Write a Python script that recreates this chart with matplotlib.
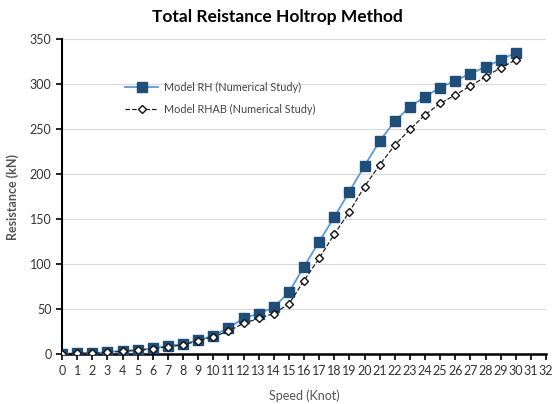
import numpy as np
import matplotlib.pyplot as plt

plt.rcParams['font.family'] = ['Lato', 'DejaVu Sans']

speed = list(range(0, 31))
rh = [0, 1, 1, 2, 3.7, 4.4, 6.3, 9, 11, 15.5, 20.3, 29, 39.5, 45, 51.8, 68.5,
      97, 124.8, 152, 180.5, 209, 236.5, 258.8, 274.5, 286, 296, 303.7, 311.5,
      319, 326.7, 334.8]
rhab = [0, 0.8, 0.8, 1.7, 3, 4, 5.8, 8, 10, 14.5, 19, 25.5, 34, 39.5, 45, 55.5,
        81.5, 106.3, 133, 158, 186, 210, 232, 249.6, 265.6, 278.5, 287.8, 297.8,
        308, 318, 326.7]
xticks = list(range(0, 33))
yticks = [0, 50, 100, 150, 200, 250, 300, 350]

fig = plt.figure(figsize=(5.54, 4.04), dpi=100)
ax = fig.add_axes([62/554, 1 - 354/404, (546 - 62)/554, (354 - 39)/404])

ax.plot(speed, rh, color='#5B9BD5', lw=1.3, marker='s', ms=6.5,
        markerfacecolor='#1F4E79', markeredgecolor='#1F4E79',
        label='Model RH (Numerical Study)', zorder=3)
ax.plot(speed, rhab, color='#222222', lw=0.9, ls='--', marker='D', ms=4,
        markerfacecolor='white', markeredgecolor='#111111', markeredgewidth=1,
        label='Model RHAB (Numerical Study)', zorder=4)

ax.set_xlim(0, 32)
ax.set_ylim(0, 350)
ax.set_xticks(xticks)
ax.set_yticks(yticks)
ax.tick_params(axis='x', direction='out', length=4, width=1.2, labelsize=9,
               pad=4, labelcolor='#333333')
ax.tick_params(axis='y', direction='out', length=4, width=1.2, labelsize=9,
               labelcolor='#333333')
ax.grid(axis='y', color='#d9d9d9', lw=0.8)
ax.set_axisbelow(True)
for s in ['top', 'right']:
    ax.spines[s].set_visible(False)
ax.spines['left'].set_linewidth(1.5)
ax.spines['bottom'].set_linewidth(1.8)

ax.set_xlabel('Speed (Knot)', fontsize=9, color='#555555', labelpad=9)
ax.set_ylabel('Resistance (kN)', fontsize=9, color='#555555',
              fontweight='bold', labelpad=8)
fig.text(0.5, 1 - 17/404, 'Total Reistance Holtrop Method', ha='center',
         va='center', fontsize=12.5, fontweight='bold')

ax.legend(loc='upper left', bbox_to_anchor=(0.12, 0.88), frameon=False,
          fontsize=7.8, labelcolor='#444444', handlelength=3.0,
          borderpad=0, labelspacing=1.0, handletextpad=0.6)

fig.savefig('out.png', dpi=100)
